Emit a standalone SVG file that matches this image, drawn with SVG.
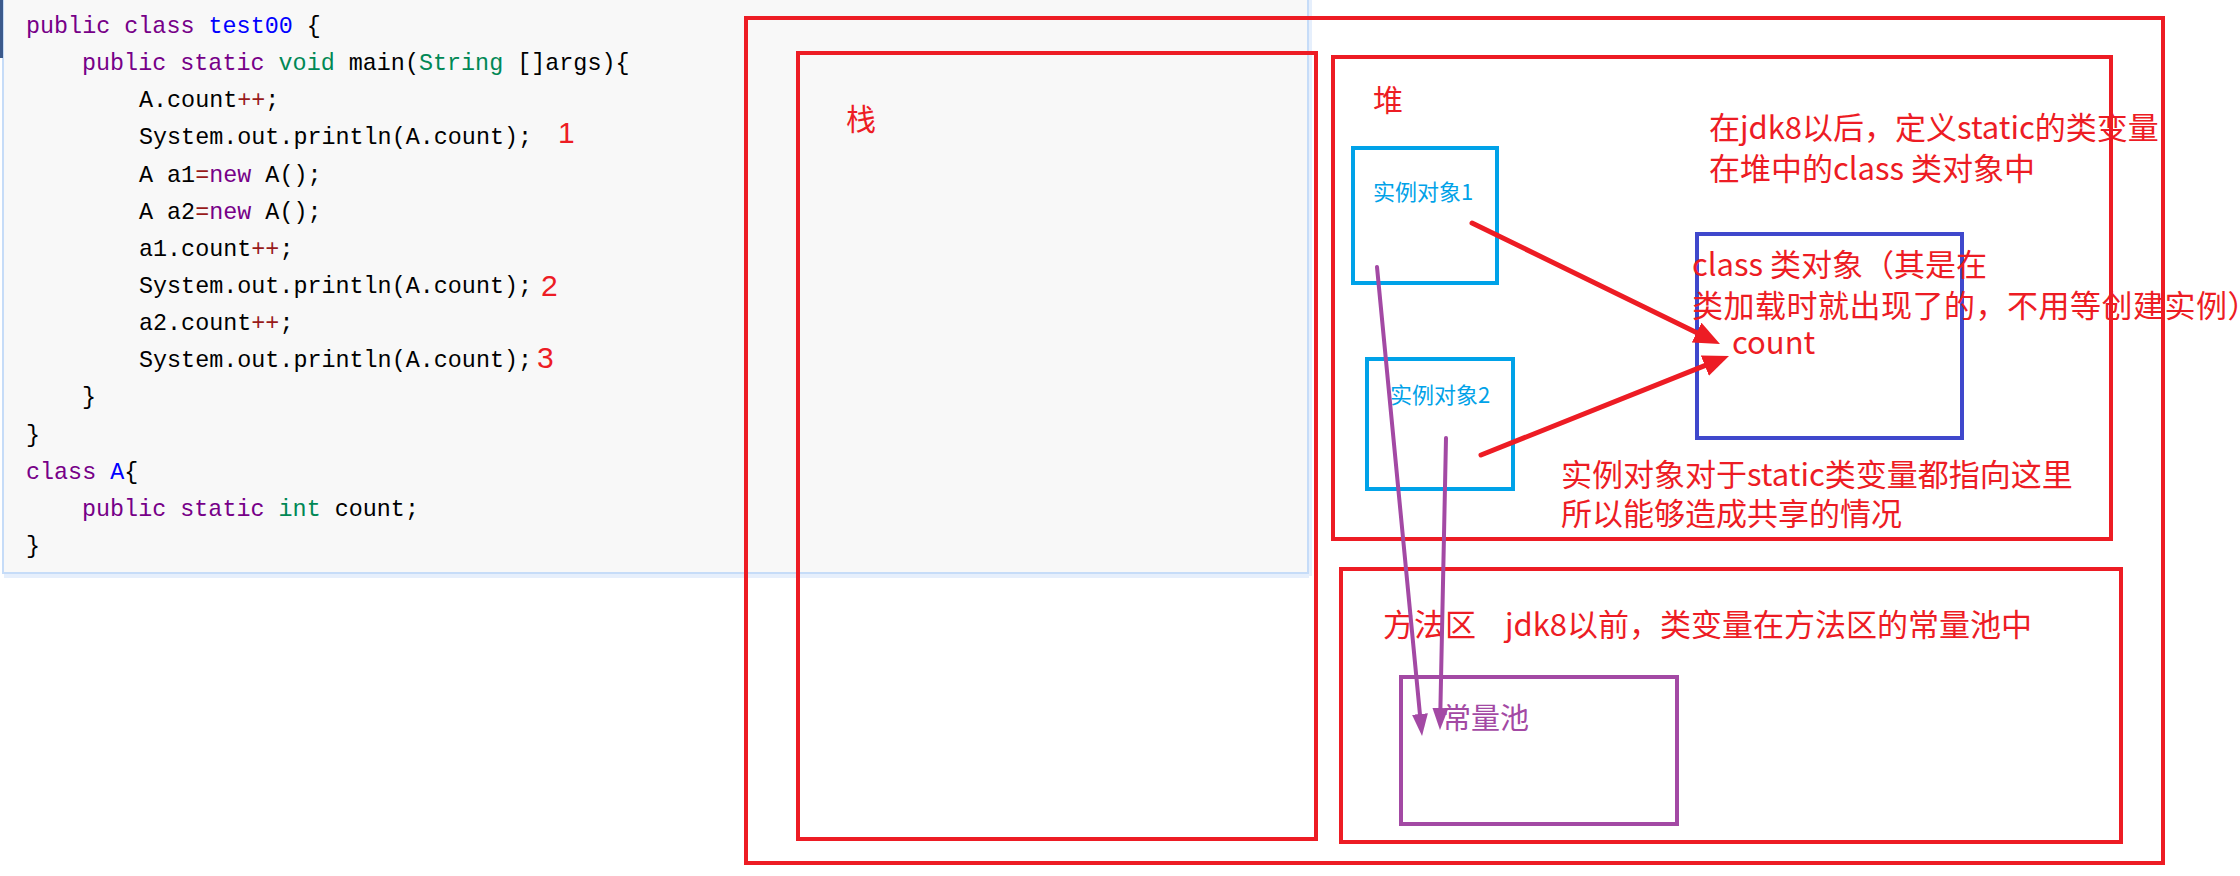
<svg xmlns="http://www.w3.org/2000/svg" width="2240" height="876" viewBox="0 0 2240 876">
<style>
.code{font-family:"Liberation Mono","DejaVu Sans Mono",monospace;font-size:23.4px;fill:#000}
.kw{fill:#770088}.def{fill:#0000ff}.ty{fill:#008855}.op{fill:#981a1a}
.num{font-family:"Liberation Sans",sans-serif;font-size:30px;fill:#ed1c24}
.cn{font-family:"Noto Sans CJK SC",sans-serif;font-size:31px;fill:#ed1c24}
.lbl{font-family:"Noto Sans CJK SC",sans-serif;font-size:30px;fill:#ed1c24}
.inst{font-family:"Noto Sans CJK SC",sans-serif;font-size:22px;fill:#00a2e8}
.pool{font-family:"Noto Sans CJK SC",sans-serif;font-size:29px;fill:#a349a4}
.rbox{fill:none;stroke:#ed1c24;stroke-width:4}
.bbox{fill:none;stroke:#00a2e8;stroke-width:4}
.cbox{fill:none;stroke:#3f48cc;stroke-width:4}
.pbox{fill:none;stroke:#a349a4;stroke-width:4}
.ra{fill:none;stroke:#ed1c24;stroke-width:5;stroke-linecap:round}
.pa{fill:none;stroke:#a349a4;stroke-width:4;stroke-linecap:round}
</style>
<defs>
<marker id="hr" markerUnits="userSpaceOnUse" markerWidth="26" markerHeight="22" refX="6" refY="11" orient="auto"><path d="M0,0 L26,11 L0,22 z" fill="#ed1c24"/></marker>
<marker id="hp" markerUnits="userSpaceOnUse" markerWidth="22" markerHeight="16" refX="6" refY="8" orient="auto"><path d="M0,0 L22,8 L0,16 z" fill="#a349a4"/></marker>
</defs>
<rect x="0" y="0" width="2240" height="876" fill="#ffffff"/>
<g id="code-panel">
<rect x="4" y="574" width="1305" height="4" fill="#e6effc"/>
<rect x="1308" y="0" width="4" height="576" fill="#e6effc"/>
<rect x="3" y="-4" width="1305" height="577" fill="#f8f8f8" stroke="#c6dcf8" stroke-width="2"/>
<rect x="0" y="0" width="3" height="58" fill="#3c5a8c"/>
<text class="code" xml:space="preserve" x="26" y="33"><tspan class="kw">public</tspan> <tspan class="kw">class</tspan> <tspan class="def">test00</tspan> {</text>
<text class="code" xml:space="preserve" x="82" y="70"><tspan class="kw">public</tspan> <tspan class="kw">static</tspan> <tspan class="ty">void</tspan> main(<tspan class="ty">String</tspan> []args){</text>
<text class="code" xml:space="preserve" x="139" y="107">A.count<tspan class="op">++</tspan>;</text>
<text class="code" xml:space="preserve" x="139" y="144">System.out.println(A.count);</text>
<text class="code" xml:space="preserve" x="139" y="182">A a1<tspan class="op">=</tspan><tspan class="kw">new</tspan> A();</text>
<text class="code" xml:space="preserve" x="139" y="219">A a2<tspan class="op">=</tspan><tspan class="kw">new</tspan> A();</text>
<text class="code" xml:space="preserve" x="139" y="256">a1.count<tspan class="op">++</tspan>;</text>
<text class="code" xml:space="preserve" x="139" y="293">System.out.println(A.count);</text>
<text class="code" xml:space="preserve" x="139" y="330">a2.count<tspan class="op">++</tspan>;</text>
<text class="code" xml:space="preserve" x="139" y="367">System.out.println(A.count);</text>
<text class="code" xml:space="preserve" x="82" y="404">}</text>
<text class="code" xml:space="preserve" x="26" y="442">}</text>
<text class="code" xml:space="preserve" x="26" y="479"><tspan class="kw">class</tspan> <tspan class="def">A</tspan>{</text>
<text class="code" xml:space="preserve" x="82" y="516"><tspan class="kw">public</tspan> <tspan class="kw">static</tspan> <tspan class="ty">int</tspan> count;</text>
<text class="code" xml:space="preserve" x="26" y="553">}</text>
<text class="num" x="558" y="143">1</text>
<text class="num" x="541" y="296">2</text>
<text class="num" x="537" y="368">3</text>
</g>
<g id="jvm">
<rect class="rbox" x="746" y="18" width="1417" height="845"/>
</g>
<g id="stack">
<rect class="rbox" x="798" y="53" width="518" height="786"/>
<text class="lbl" x="846" y="130">栈</text>
</g>
<g id="heap">
<rect class="rbox" x="1333" y="57" width="778" height="482"/>
<text class="lbl" x="1373" y="111">堆</text>
<text class="cn" x="1709" y="139">在jdk8以后，定义static的类变量</text>
<text class="cn" x="1709" y="180">在堆中的class 类对象中</text>
<text class="cn" x="1561" y="486">实例对象对于static类变量都指向这里</text>
<text class="cn" x="1561" y="525">所以能够造成共享的情况</text>
</g>
<g id="instance1">
<rect class="bbox" x="1353" y="148" width="144" height="135"/>
<text class="inst" x="1373" y="200">实例对象1</text>
</g>
<g id="instance2">
<rect class="bbox" x="1367" y="359" width="146" height="130"/>
<text class="inst" x="1390" y="403">实例对象2</text>
</g>
<g id="class-object">
<rect class="cbox" x="1697" y="234" width="265" height="204"/>
<text class="cn" x="1692" y="276">class 类对象（其是在</text>
<text class="cn" x="1692" y="317" letter-spacing="0.5">类加载时就出现了的，不用等创建实例）</text>
<text class="cn" x="1732" y="354">count</text>
</g>
<g id="method-area">
<rect class="rbox" x="1341" y="569" width="780" height="273"/>
<text class="cn" x="1383" y="636">方法区</text>
<text class="cn" x="1505" y="636">jdk8以前，类变量在方法区的常量池中</text>
</g>
<g id="constant-pool">
<rect class="pbox" x="1401" y="677" width="276" height="147"/>
<text class="pool" x="1442" y="729">常量池</text>
</g>
<g id="connectors">
<line class="ra" x1="1472" y1="223" x2="1702" y2="335.2" marker-end="url(#hr)"/>
<line class="ra" x1="1481" y1="455" x2="1710.4" y2="363.4" marker-end="url(#hr)"/>
<line class="pa" x1="1377" y1="267" x2="1420.5" y2="720" marker-end="url(#hp)"/>
<line class="pa" x1="1446" y1="438" x2="1440.3" y2="714" marker-end="url(#hp)"/>
</g>
</svg>
